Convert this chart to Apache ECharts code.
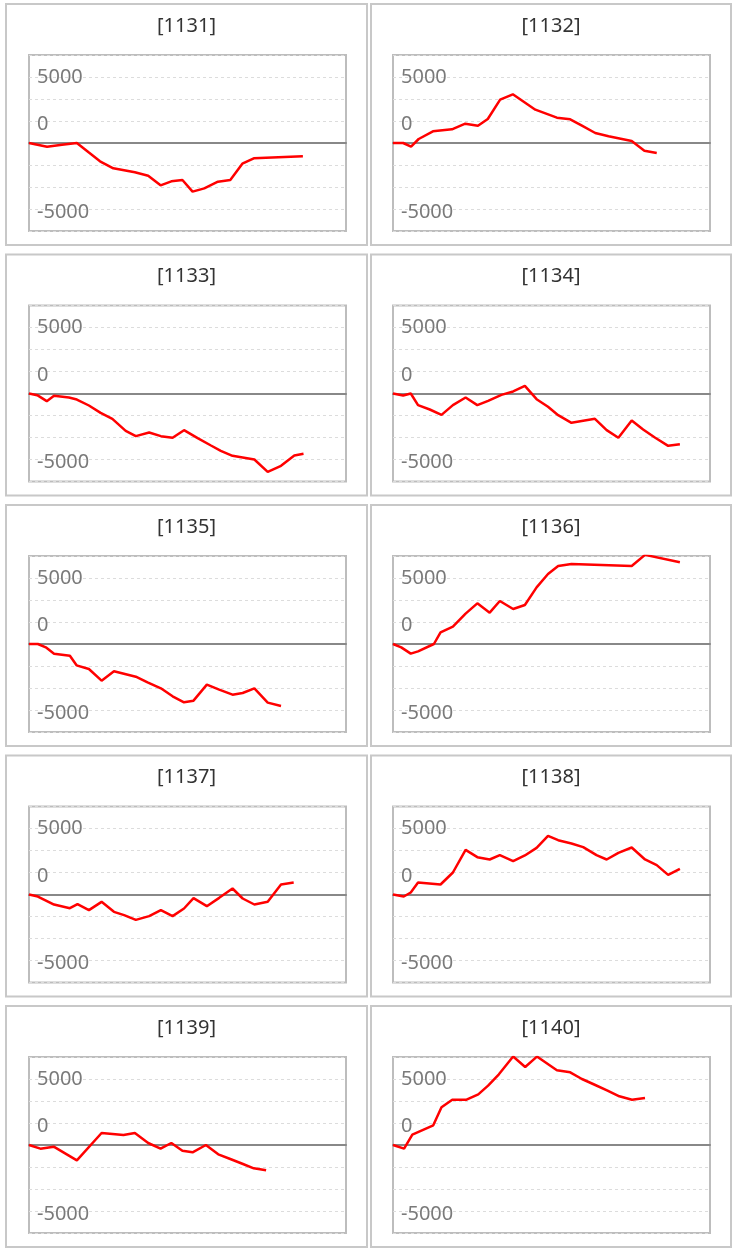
<!DOCTYPE html>
<html><head><meta charset="utf-8">
<script src="https://cdn.jsdelivr.net/npm/echarts@6/dist/echarts.min.js"></script>
<style>html,body{margin:0;padding:0;background:#fff}#c{width:738px;height:1254px}</style>
</head><body><div id="c"></div>
<script>
// panel titles
const titles = ['[1131]','[1132]','[1133]','[1134]','[1135]','[1136]','[1137]','[1138]','[1139]','[1140]'];
// y tick labels shown
const yTickLabels = ['5000','0','-5000'];
// series: [position, value]
const s1131 = [[0,0],[5.7,-278],[10.4,-126],[15.1,0],[18.8,-707],[22.4,-1389],[26.6,-1919],[33.4,-2222],[37.6,-2475],[41.5,-3207],[44.9,-2904],[48.4,-2803],[51.6,-3687],[55.3,-3434],[59.6,-2929],[63.5,-2803],[67.3,-1566],[70.9,-1162],[86.4,-1010]];
const s1132 = [[0,0],[3.2,0],[5.7,-278],[8.1,303],[12.6,884],[18.6,1035],[22.8,1465],[26.8,1313],[29.9,1818],[33.8,3283],[37.8,3687],[44.9,2525],[51.7,1919],[55.9,1793],[59.6,1313],[63.8,758],[68.0,505],[75.3,152],[79.3,-581],[83.2,-758]];
const s1133 = [[0,0],[2.6,-126],[5.6,-581],[7.9,-177],[12.6,-303],[15.1,-455],[18.9,-909],[22.6,-1465],[26.3,-1919],[30.5,-2828],[33.7,-3232],[37.9,-2955],[41.6,-3232],[45.3,-3358],[48.9,-2778],[53.2,-3384],[57.4,-3939],[60.5,-4343],[64.2,-4722],[67.4,-4848],[71.1,-5000],[75.3,-5934],[79.5,-5479],[83.7,-4697],[86.6,-4570]];
const s1134 = [[0,0],[3.2,-152],[5.6,0],[7.9,-884],[11.6,-1212],[15.3,-1616],[18.9,-884],[22.9,-303],[26.6,-884],[30.0,-556],[34.2,-101],[37.9,152],[41.6,581],[45.3,-429],[48.9,-1010],[52.1,-1641],[56.3,-2222],[60.0,-2071],[63.7,-1919],[67.4,-2778],[71.1,-3358],[75.3,-2045],[78.9,-2727],[82.6,-3333],[86.8,-3964],[90.5,-3838]];
const s1135 = [[0,0],[2.8,0],[5.3,-253],[7.9,-732],[12.9,-884],[15.0,-1616],[18.9,-1894],[22.9,-2778],[26.8,-2071],[33.7,-2475],[37.4,-2904],[41.6,-3359],[45.3,-3964],[48.9,-4419],[51.9,-4293],[56.1,-3081],[60.0,-3460],[64.2,-3838],[67.4,-3712],[71.1,-3358],[75.3,-4444],[79.5,-4697]];
const s1136 = [[0,0],[2.6,-253],[5.6,-732],[7.9,-556],[12.9,0],[15.0,884],[18.9,1313],[22.9,2298],[26.6,3081],[30.5,2374],[33.7,3258],[37.9,2652],[41.6,2955],[45.3,4293],[48.9,5303],[52.1,5909],[56.3,6060],[75.3,5909],[79.5,6750],[90.5,6186]];
const s1137 = [[0,0],[2.8,-152],[7.9,-758],[12.9,-1035],[15.3,-732],[18.9,-1187],[22.9,-556],[26.8,-1313],[30.0,-1566],[33.7,-1919],[37.9,-1641],[41.6,-1187],[45.3,-1641],[48.9,-1061],[51.9,-278],[56.1,-884],[60.0,-253],[64.2,455],[67.4,-303],[71.1,-758],[75.3,-556],[79.5,758],[83.5,909]];
const s1138 = [[0,0],[3.4,-152],[5.6,152],[7.9,909],[15.0,758],[18.9,1667],[22.9,3384],[26.6,2828],[30.5,2652],[33.7,2980],[37.9,2525],[41.6,2955],[45.3,3535],[48.9,4444],[52.1,4116],[56.3,3864],[60.0,3586],[64.2,2980],[67.4,2652],[71.1,3157],[75.3,3561],[79.5,2652],[83.2,2222],[86.8,1490],[90.5,1944]];
const s1139 = [[0,0],[3.6,-278],[7.8,-126],[15.1,-1162],[22.9,909],[29.8,758],[33.4,909],[37.6,152],[41.5,-278],[44.9,152],[48.4,-429],[51.6,-556],[55.8,0],[59.7,-707],[63.5,-1061],[67.5,-1439],[70.9,-1768],[74.8,-1919]];
const s1140 = [[0,0],[3.5,-278],[6.1,783],[12.7,1490],[15.3,2854],[18.7,3434],[23.2,3434],[26.9,3838],[30.0,4495],[33.4,5353],[37.9,6700],[41.7,5909],[45.4,6700],[51.7,5656],[55.9,5505],[59.6,5000],[63.8,4545],[67.5,4141],[71.4,3687],[75.4,3434],[79.5,3561]];
const seriesData = [s1131,s1132,s1133,s1134,s1135,s1136,s1137,s1138,s1139,s1140];

const FONT = '"Noto Sans", "Liberation Sans", sans-serif';
const grids = [], xAxes = [], yAxes = [], series = [], graphics = [];
const step = 250.5;
const yStep = 5000/3;
seriesData.forEach((d, i) => {
  const col = i % 2, row = Math.floor(i / 2);
  const pLeft = col === 0 ? 6 : 371;
  const pW = col === 0 ? 361 : 360;
  const pTop = 4 + row * step;
  graphics.push({type:'rect', silent:true, z:-1, shape:{x:pLeft, y:pTop, width:pW, height:241},
    style:{fill:'#fff', stroke:'#c8c8c8', lineWidth:2}});
  graphics.push({type:'text', silent:true, z:10, style:{text:titles[i], x:pLeft + pW/2, y:pTop + 22,
    fill:'#333', font:'20px ' + FONT, textAlign:'center', textVerticalAlign:'middle', align:'center', verticalAlign:'middle'}});
  grids.push({left: col === 0 ? 29 : 393, top: 55 + row * step, width: 317, height: 176,
    show:true, borderColor:'#bdbdbd', borderWidth:2, backgroundColor:'transparent'});
  xAxes.push({type:'value', gridIndex:i, min:0, max:100,
    axisLine:{show:true, onZero:true, lineStyle:{color:'#888', width:2}},
    axisTick:{show:false}, axisLabel:{show:false}, splitLine:{show:false}});
  yAxes.push({type:'value', gridIndex:i, min:-4*yStep, max:4*yStep, interval:yStep,
    axisLine:{show:false}, axisTick:{show:false},
    splitLine:{show:true, lineStyle:{color:'#dcdcdc', width:1, type:[3,3]}},
    axisLabel:{inside:true, margin:8, color:'#7a7a7a', fontSize:20, fontFamily:FONT,
      formatter: v => {
        const r = Math.round(v);
        if (r === 5000) return yTickLabels[0];
        if (r === 0) return yTickLabels[1] + '\n{sp| }';
        if (r === -5000) return '{sm| }\n' + yTickLabels[2];
        return '';
      },
      rich:{sp:{lineHeight:37, fontSize:10}, sm:{lineHeight:6, fontSize:4}}
    }});
  series.push({type:'line', xAxisIndex:i, yAxisIndex:i, data:d, showSymbol:false,
    lineStyle:{color:'#ff0000', width:2.5}, itemStyle:{color:'#ff0000'}, clip:true, animation:false});
});
const chart = echarts.init(document.getElementById('c'), null, {renderer:'canvas'});
chart.setOption({animation:false, backgroundColor:'#fff', grid:grids, xAxis:xAxes, yAxis:yAxes, series, graphic:graphics});
</script></body></html>
